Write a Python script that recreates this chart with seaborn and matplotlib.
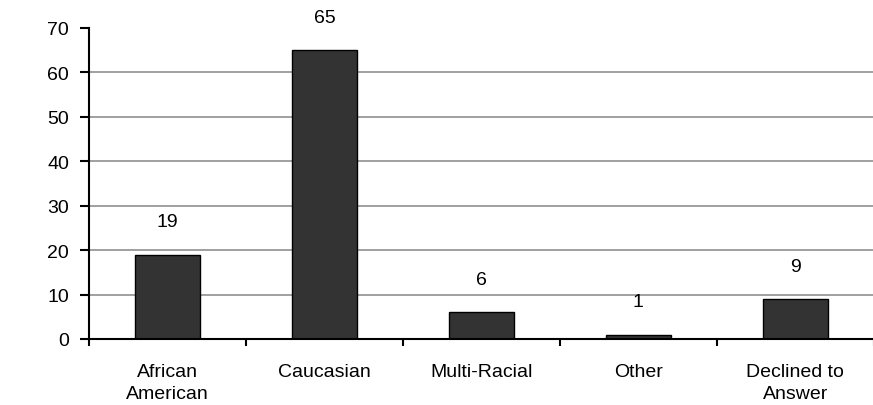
import matplotlib
matplotlib.use("Agg")
import matplotlib.pyplot as plt
import seaborn as sns
import pandas as pd
import numpy as np

categories = ["African\nAmerican", "Caucasian", "Multi-Racial", "Other", "Declined to\nAnswer"]
counts = [19, 65, 6, 1, 9]
y_ticks = [0, 10, 20, 30, 40, 50, 60, 70]

sns.set_theme(style="white")
plt.rcParams["font.family"] = ["Liberation Sans", "DejaVu Sans"]
FS = 14

df = pd.DataFrame({"category": categories, "count": counts})

fig = plt.figure(figsize=(8.73, 4.06), dpi=100)
ax = fig.add_axes([0.102, 0.1626, 0.899, 0.766])

sns.barplot(data=df, x="category", y="count", color="#333333",
            edgecolor="black", linewidth=1.0, width=0.41, saturation=1, ax=ax)

ax.set_ylim(0, 70)
ax.set_xlim(-0.5, len(categories) - 0.5)
ax.set_yticks(y_ticks)
ax.set_yticklabels([str(t) for t in y_ticks], fontsize=FS)

# horizontal gridlines (none at the top limit)
for t in y_ticks[1:-1]:
    ax.axhline(t, color="#999999", linewidth=1.3, zorder=0)

for s in ["top", "right"]:
    ax.spines[s].set_visible(False)
for s in ["left", "bottom"]:
    ax.spines[s].set_color("black")
    ax.spines[s].set_linewidth(1.5)

ax.tick_params(axis="y", which="major", left=True, length=6.5, width=1.5,
               color="black", pad=8, labelcolor="black")
ax.set_xticks(range(len(categories)))
ax.set_xticklabels(categories, fontsize=FS, linespacing=1.35)
ax.tick_params(axis="x", which="major", bottom=False, pad=11.5, labelcolor="black")
ax.set_xticks(np.arange(-0.5, len(categories), 1.0), minor=True)
ax.tick_params(axis="x", which="minor", bottom=True, length=5, width=1.5, color="black")
ax.set_xlabel("")
ax.set_ylabel("")

# value labels above each bar
for i, v in enumerate(counts):
    ax.annotate(str(v), xy=(i, v), xytext=(0, 23.5), textcoords="offset points",
                ha="center", va="center", fontsize=FS, color="black",
                annotation_clip=False)

fig.savefig("out.png", dpi=100)
